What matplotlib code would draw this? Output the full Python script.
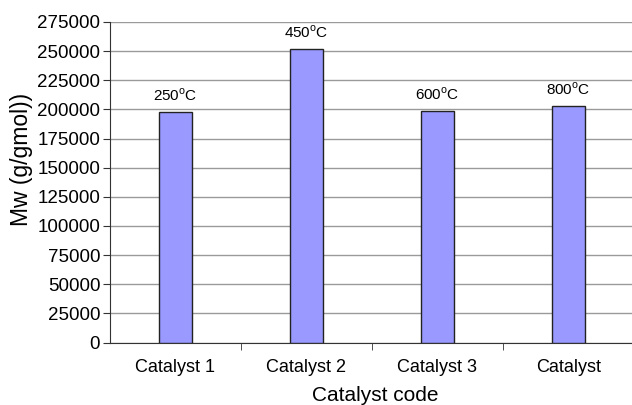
import matplotlib
matplotlib.use("Agg")
from matplotlib import pyplot as plt
import numpy as np

plt.rcParams['font.family'] = ['Liberation Sans', 'DejaVu Sans']
plt.rcParams['mathtext.fontset'] = 'custom'
plt.rcParams['mathtext.rm'] = 'Liberation Sans'

catalysts = ['Catalyst 1', 'Catalyst 2', 'Catalyst 3', 'Catalyst']
mw = [198000, 252000, 199000, 203000]
temps = ['250', '450', '600', '800']
yticks = list(range(0, 275001, 25000))

fig = plt.figure(figsize=(6.32, 4.05), dpi=100)
ax = fig.add_axes([0.174, 0.154, 0.829, 0.792])

x = np.arange(len(catalysts))
ax.bar(x, mw, width=0.25, color='#9999ff', edgecolor='#222222', linewidth=1.0, zorder=3)

for xi, v, t in zip(x, mw, temps):
    ax.text(xi, v + 7000, t + r'$^{\rm o}$C', ha='center', va='bottom', fontsize=11)

ax.set_xlim(-0.5, 3.5)
ax.set_ylim(0, 275000)
ax.set_yticks(yticks)
ax.set_yticklabels([str(t) for t in yticks], fontsize=13.5)
ax.yaxis.grid(True, color='#9a9a9a', linewidth=1.0, zorder=0)

ax.set_xticks(x)
ax.set_xticklabels(catalysts, fontsize=13)
ax.tick_params(axis='x', length=0, pad=12)
ax.set_xticks([0.5, 1.5, 2.5], minor=True)
ax.tick_params(axis='x', which='minor', length=5, direction='out', color='#333333')
ax.tick_params(axis='y', length=5, direction='out', color='#333333', pad=2)

for s in ['top', 'right']:
    ax.spines[s].set_visible(False)
for s in ['left', 'bottom']:
    ax.spines[s].set_color('#333333')

ax.set_xlabel('Catalyst code', fontsize=15, va='bottom')
ax.xaxis.set_label_coords(0.506, -0.1935)
ax.set_ylabel('Mw (g/gmol))', fontsize=16.5)
ax.yaxis.set_label_coords(-0.147, 0.57)

fig.savefig('out.png', dpi=100)
